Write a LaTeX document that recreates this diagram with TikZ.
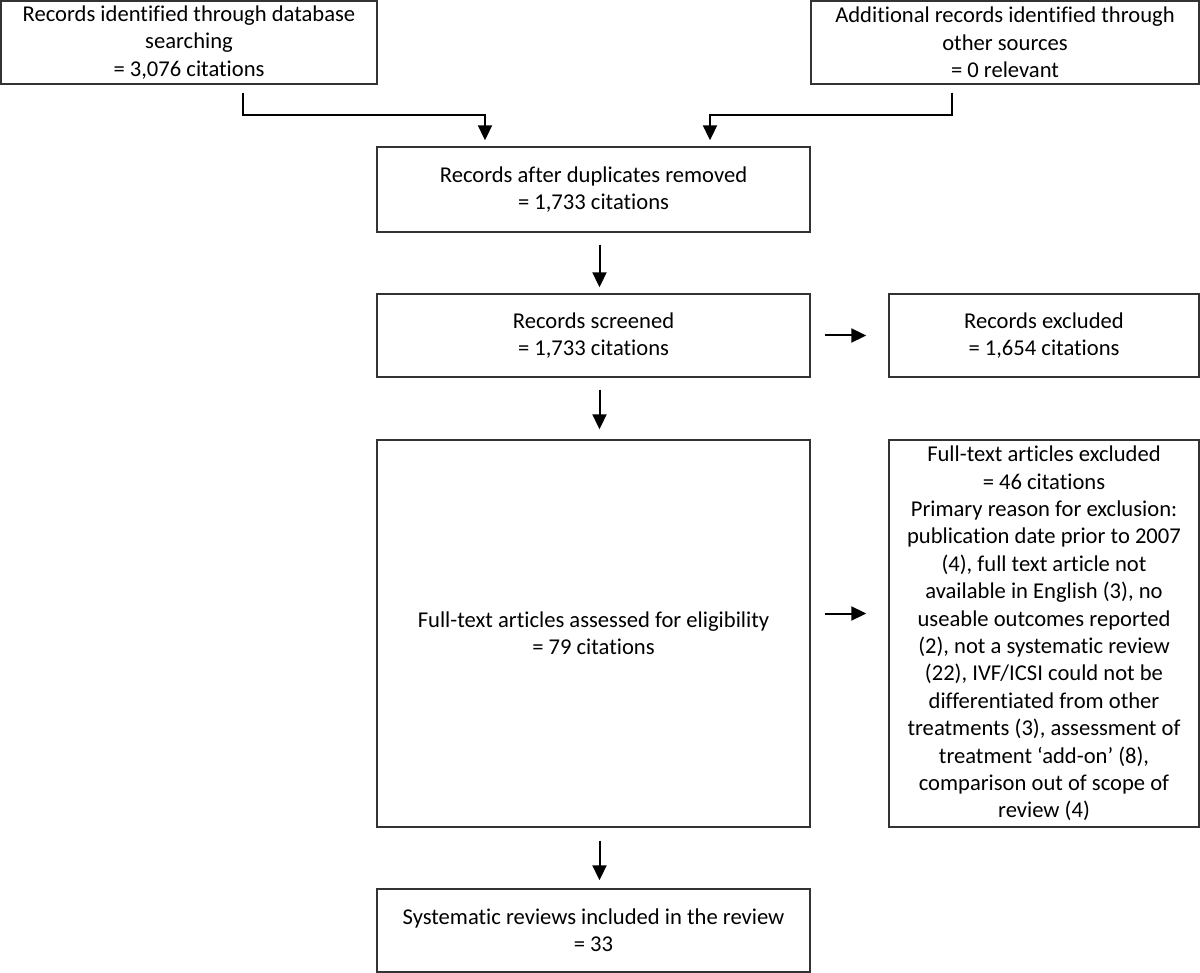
\documentclass[tikz,border=0pt]{standalone}
\usepackage{fontspec}
\setmainfont{Carlito}[Ligatures=TeX,RawFeature={-liga;-clig;-calt;-dlig;-rlig}]
\usetikzlibrary{arrows.meta}
\begin{document}
\begin{tikzpicture}[x=1pt,y=-1pt,
  box/.style={draw=black!80,line width=1.4pt,fill=white,inner sep=0pt,align=center,
    font=\fontsize{22.6}{27.4}\selectfont},
  conn/.style={line width=2pt,-{Triangle[length=15pt,width=14pt]}}]
\useasboundingbox (0,0) rectangle (1200,973);
\node[box,minimum width=376pt,minimum height=83pt] (A) at (189,42.5)
  {Records identified through database\\searching\\= 3,076 citations};
\node[box,minimum width=388pt,minimum height=83pt] (R) at (1005,42.5)
  {Additional records identified through\\other sources\\= 0 relevant};
\node[box,minimum width=433pt,minimum height=85pt] (B) at (593.5,189.5)
  {Records after duplicates removed\\= 1,733 citations};
\node[box,minimum width=433pt,minimum height=83pt] (C) at (593.5,335.5)
  {Records screened\\= 1,733 citations};
\node[box,minimum width=310pt,minimum height=83pt] (D) at (1044,335.5)
  {Records excluded\\= 1,654 citations};
\node[box,minimum width=433pt,minimum height=387pt] (E) at (593.5,633.5)
  {Full-text articles assessed for eligibility\\= 79 citations};
\node[box,minimum width=310pt,minimum height=387pt] (F) at (1044,633.5)
  {Full-text articles excluded\\= 46 citations\\Primary reason for exclusion:\\publication date prior to 2007\\(4), full text article not\\available in English (3), no\\useable outcomes reported\\(2), not a systematic review\\(22), IVF/ICSI could not be\\differentiated from other\\treatments (3), assessment of\\treatment ‘add-on’ (8),\\comparison out of scope of\\review (4)};
\node[box,minimum width=433pt,minimum height=83pt] (G) at (593.5,930.5)
  {Systematic reviews included in the review\\= 33};
% connectors
\draw[conn] ([xshift=54pt,yshift=-8pt]A.south) |- ([xshift=-108.5pt,yshift=31pt]B.north) -- ([xshift=-108.5pt,yshift=6pt]B.north);
\draw[conn] ([xshift=-53pt,yshift=-8pt]R.south) |- ([xshift=116.5pt,yshift=31pt]B.north) -- ([xshift=116.5pt,yshift=6pt]B.north);
\draw[conn,shorten <=12pt,shorten >=6pt] ([xshift=6pt]B.south) -- ([xshift=6pt]C.north);
\draw[conn,shorten <=12pt,shorten >=10pt] ([xshift=6pt]C.south) -- ([xshift=6pt]E.north);
\draw[conn,shorten <=13pt,shorten >=8pt] ([xshift=6pt]E.south) -- ([xshift=6pt]G.north);
\draw[conn,shorten <=14pt,shorten >=22pt] (C.east) -- (D.west);
\draw[conn,shorten <=14pt,shorten >=22pt] ([yshift=20pt]E.east) -- ([yshift=20pt]F.west);
\end{tikzpicture}
\end{document}
